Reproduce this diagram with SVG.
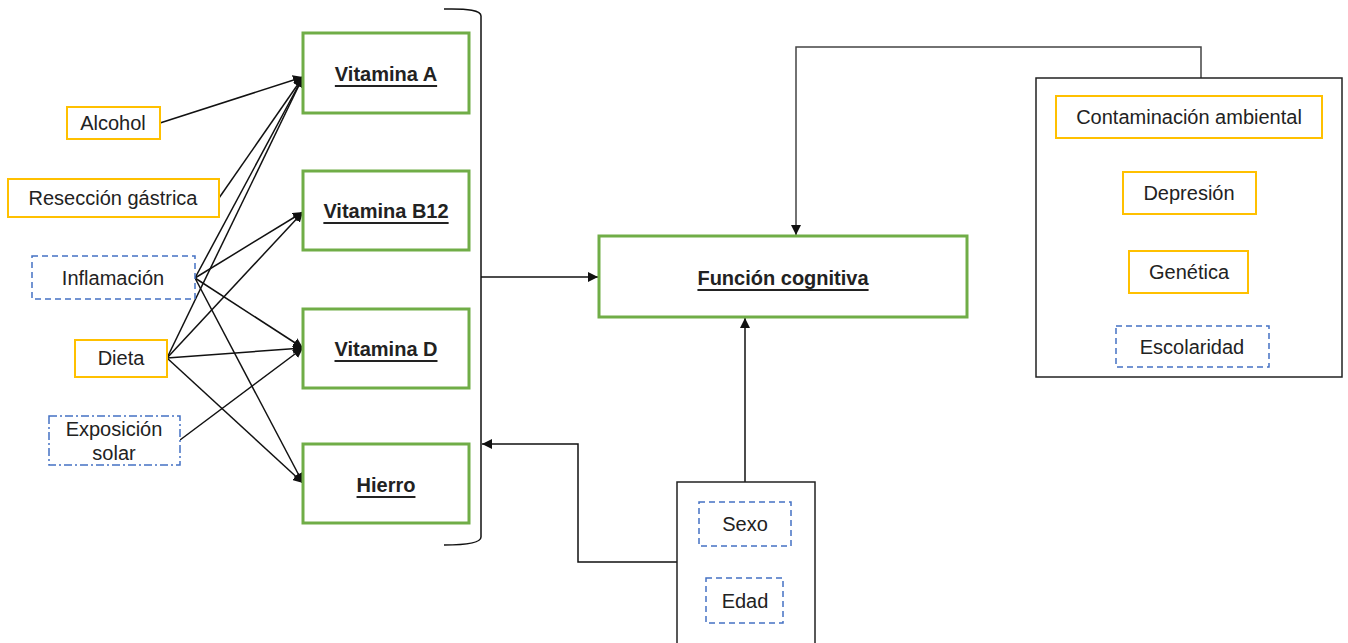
<svg xmlns="http://www.w3.org/2000/svg" width="1348" height="643" viewBox="0 0 1348 643">
<style>
text{font-family:"Liberation Sans",Arial,sans-serif;font-size:20px;fill:#222;text-anchor:middle;dominant-baseline:central}
.b{font-weight:bold;text-decoration:underline}
.y{fill:#fff;stroke:#FFC000;stroke-width:2}
.d{fill:#fff;stroke:#4472C4;stroke-width:1.5;stroke-dasharray:6 4}
.dd{fill:#fff;stroke:#4472C4;stroke-width:1.5;stroke-dasharray:8 3 2 3}
.g{fill:#fff;stroke:#70AD47;stroke-width:3}
.k{fill:#fff;stroke:#222;stroke-width:1.5}
.c{fill:none;stroke:#111;stroke-width:1.5}
</style>
<defs>
<marker id="ah" viewBox="0 0 10 10" refX="10" refY="5" markerWidth="10" markerHeight="10" markerUnits="userSpaceOnUse" orient="auto">
<path d="M0,0 L10,5 L0,10 Z" fill="#111"/>
</marker>
</defs>
<g id="connectors">
<line class="c" x1="160" y1="123" x2="303" y2="77" marker-end="url(#ah)"/>
<line class="c" x1="219" y1="198" x2="303" y2="77" marker-end="url(#ah)"/>
<line class="c" x1="195" y1="278" x2="303" y2="77" marker-end="url(#ah)"/>
<line class="c" x1="195" y1="278" x2="303" y2="212" marker-end="url(#ah)"/>
<line class="c" x1="195" y1="278" x2="303" y2="348" marker-end="url(#ah)"/>
<line class="c" x1="195" y1="278" x2="303" y2="483" marker-end="url(#ah)"/>
<line class="c" x1="167" y1="358" x2="303" y2="77" marker-end="url(#ah)"/>
<line class="c" x1="167" y1="358" x2="303" y2="212" marker-end="url(#ah)"/>
<line class="c" x1="167" y1="358" x2="303" y2="348" marker-end="url(#ah)"/>
<line class="c" x1="167" y1="358" x2="303" y2="483" marker-end="url(#ah)"/>
<line class="c" x1="180" y1="440" x2="303" y2="348" marker-end="url(#ah)"/>
<path class="c" d="M444,9 Q481,8 481,16 L481,537 Q481,545 444,545"/>
<line class="c" x1="481" y1="277" x2="598" y2="277" marker-end="url(#ah)"/>
<path class="c" d="M677,562 L578,562 L578,444 L482,444" marker-end="url(#ah)"/>
<line class="c" x1="745" y1="482" x2="745" y2="318" marker-end="url(#ah)"/>
<path class="c" style="stroke:#444" d="M1201,78 L1201,47 L796,47 L796,235" marker-end="url(#ah)"/>
</g>
<g id="alcohol"><rect class="y" x="67" y="107" width="93" height="32"/><text x="113" y="123">Alcohol</text></g>
<g id="reseccion"><rect class="y" x="8" y="179" width="211" height="38"/><text x="113" y="198">Resección gástrica</text></g>
<g id="inflamacion"><rect class="d" x="32" y="256" width="163" height="43"/><text x="113" y="278">Inflamación</text></g>
<g id="dieta"><rect class="y" x="75" y="340" width="92" height="37"/><text x="121" y="358">Dieta</text></g>
<g id="exposicion"><rect class="dd" x="49" y="416" width="131" height="49"/><text x="114" y="429">Exposición</text><text x="114" y="453">solar</text></g>
<g id="vitA"><rect class="g" x="303" y="33" width="166" height="80"/><text class="b" x="386" y="74">Vitamina A</text></g>
<g id="vitB12"><rect class="g" x="303" y="171" width="166" height="79"/><text class="b" x="386" y="211">Vitamina B12</text></g>
<g id="vitD"><rect class="g" x="303" y="309" width="166" height="79"/><text class="b" x="386" y="349">Vitamina D</text></g>
<g id="hierro"><rect class="g" x="303" y="444" width="166" height="79"/><text class="b" x="386" y="485">Hierro</text></g>
<g id="funcion"><rect class="g" x="599" y="236" width="368" height="81"/><text class="b" x="783" y="278">Función cognitiva</text></g>
<g id="otros"><rect class="k" x="1036" y="78" width="306" height="299"/>
<rect class="y" x="1056" y="96" width="266" height="42"/><text x="1189" y="117">Contaminación ambiental</text>
<rect class="y" x="1123" y="172" width="133" height="42"/><text x="1189" y="193">Depresión</text>
<rect class="y" x="1129" y="251" width="119" height="42"/><text x="1189" y="272">Genética</text>
<rect class="d" x="1116" y="326" width="153" height="41"/><text x="1192" y="347">Escolaridad</text>
</g>
<g id="demograficos"><rect class="k" x="677" y="482" width="138" height="170"/>
<rect class="d" x="699" y="502" width="92" height="44"/><text x="745" y="524">Sexo</text>
<rect class="d" x="706" y="578" width="77" height="45"/><text x="745" y="601">Edad</text>
</g>
</svg>
